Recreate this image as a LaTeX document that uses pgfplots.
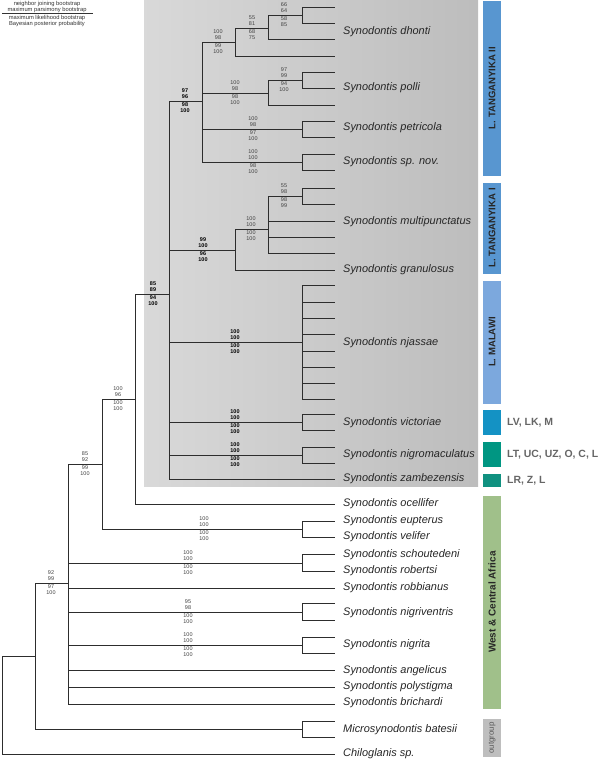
\documentclass[border=0pt]{standalone}
\usepackage{fontspec}
\setmainfont{Liberation Sans}
\usepackage{pgfplots}
\pgfplotsset{compat=1.18}
\definecolor{tree}{RGB}{45,45,45}
\definecolor{lakeA}{RGB}{88,150,208}
\definecolor{lakeB}{RGB}{124,168,221}
\definecolor{vic}{RGB}{20,146,196}
\definecolor{nigm}{RGB}{0,150,130}
\definecolor{zamb}{RGB}{16,145,128}
\definecolor{wca}{RGB}{160,192,138}
\definecolor{outg}{RGB}{190,190,190}
\tikzset{
  bsl/.style={inner sep=0pt, font=\fontsize{5.5}{6}\selectfont, text=black!75},
  bsb/.style={font=\fontsize{5.5}{6}\selectfont\bfseries, text=black},
  tip/.style={anchor=west, inner sep=0pt, font=\fontsize{11}{12}\selectfont\itshape, text=black!85},
  bar/.style={rotate=90, inner sep=0pt, font=\fontsize{9.6}{12}\selectfont\bfseries, text=black!85},
  reg/.style={anchor=west, inner sep=0pt, font=\fontsize{10.5}{12}\selectfont\bfseries, text=black!60},
  leg/.style={inner sep=0pt, font=\fontsize{5.8}{6}\selectfont, text=black!80}
}
\newcommand{\bs}[7][]{%
  \node[bsl,#1,yshift=10bp] at (axis cs:#2,#3) {#4};
  \node[bsl,#1,yshift=4bp] at (axis cs:#2,#3) {#5};
  \node[bsl,#1,yshift=-4bp] at (axis cs:#2,#3) {#6};
  \node[bsl,#1,yshift=-10bp] at (axis cs:#2,#3) {#7};}
\begin{document}
\begin{tikzpicture}
\begin{axis}[width=600bp, height=760bp, scale only axis,
  xmin=0, xmax=600, ymin=0, ymax=760, y dir=reverse,
  hide axis, clip=false, unbounded coords=jump]
\coordinate (BL) at (rel axis cs:0,0);
\coordinate (TR) at (rel axis cs:1,1);
% shaded box
\addplot[draw=none, left color=black!15, right color=black!26]
  coordinates {(144,1)(478,1)(478,486)(144,486)} -- cycle;
% colour bars
\addplot[draw=none, fill=lakeA] coordinates {(483,1)(501,1)(501,176)(483,176)} -- cycle;
\addplot[draw=none, fill=lakeA] coordinates {(483,183)(501,183)(501,274)(483,274)} -- cycle;
\addplot[draw=none, fill=lakeB] coordinates {(483,281)(501,281)(501,404)(483,404)} -- cycle;
\addplot[draw=none, fill=vic] coordinates {(483,410)(501,410)(501,435)(483,435)} -- cycle;
\addplot[draw=none, fill=nigm] coordinates {(483,442)(501,442)(501,467)(483,467)} -- cycle;
\addplot[draw=none, fill=zamb] coordinates {(483,474)(501,474)(501,487)(483,487)} -- cycle;
\addplot[draw=none, fill=wca] coordinates {(483,496)(501,496)(501,709)(483,709)} -- cycle;
\addplot[draw=none, fill=outg] coordinates {(483,719)(501,719)(501,757)(483,757)} -- cycle;
% tree
\addplot[tree, line width=0.95pt, mark=none, line join=miter] coordinates {
(2,705)(2,656)(35,656) (nan,nan)
(2,705)(2,754)(335,754) (nan,nan)
(35,656)(35,583)(68,583) (nan,nan)
(35,656)(35,729)(302,729) (nan,nan)
(302,729)(302,721)(335,721) (nan,nan)
(302,729)(302,737)(335,737) (nan,nan)
(68,583)(68,464)(102,464) (nan,nan)
(68,583)(68,563)(302,563) (nan,nan)
(68,583)(68,588)(335,588) (nan,nan)
(68,583)(68,612)(302,612) (nan,nan)
(68,583)(68,645)(302,645) (nan,nan)
(68,583)(68,670)(335,670) (nan,nan)
(68,583)(68,687)(335,687) (nan,nan)
(68,583)(68,704)(335,704) (nan,nan)
(302,563)(302,554)(335,554) (nan,nan)
(302,563)(302,571)(335,571) (nan,nan)
(302,612)(302,603)(335,603) (nan,nan)
(302,612)(302,620)(335,620) (nan,nan)
(302,645)(302,637)(335,637) (nan,nan)
(302,645)(302,653)(335,653) (nan,nan)
(102,464)(102,399)(135,399) (nan,nan)
(102,464)(102,529)(302,529) (nan,nan)
(302,529)(302,521)(335,521) (nan,nan)
(302,529)(302,537)(335,537) (nan,nan)
(135,399)(135,294)(169,294) (nan,nan)
(135,399)(135,504)(335,504) (nan,nan)
(169,294)(169,101)(202,101) (nan,nan)
(169,294)(169,250)(235,250) (nan,nan)
(169,294)(169,342)(302,342) (nan,nan)
(169,294)(169,422)(302,422) (nan,nan)
(169,294)(169,455)(302,455) (nan,nan)
(169,294)(169,479)(335,479) (nan,nan)
(302,342)(302,285)(335,285) (nan,nan)
(302,342)(302,302)(335,302) (nan,nan)
(302,342)(302,318)(335,318) (nan,nan)
(302,342)(302,334)(335,334) (nan,nan)
(302,342)(302,351)(335,351) (nan,nan)
(302,342)(302,367)(335,367) (nan,nan)
(302,342)(302,383)(335,383) (nan,nan)
(302,342)(302,399)(335,399) (nan,nan)
(302,422)(302,414)(335,414) (nan,nan)
(302,422)(302,430)(335,430) (nan,nan)
(302,455)(302,447)(335,447) (nan,nan)
(302,455)(302,463)(335,463) (nan,nan)
(202,101)(202,42)(235,42) (nan,nan)
(202,101)(202,93)(268,93) (nan,nan)
(202,101)(202,129)(302,129) (nan,nan)
(202,101)(202,162)(302,162) (nan,nan)
(302,129)(302,121)(335,121) (nan,nan)
(302,129)(302,137)(335,137) (nan,nan)
(302,162)(302,154)(335,154) (nan,nan)
(302,162)(302,170)(335,170) (nan,nan)
(235,42)(235,28)(268,28) (nan,nan)
(235,42)(235,56)(335,56) (nan,nan)
(268,28)(268,15)(302,15) (nan,nan)
(268,28)(268,39)(335,39) (nan,nan)
(302,15)(302,7)(335,7) (nan,nan)
(302,15)(302,23)(335,23) (nan,nan)
(268,93)(268,80)(302,80) (nan,nan)
(268,93)(268,105)(335,105) (nan,nan)
(302,80)(302,72)(335,72) (nan,nan)
(302,80)(302,88)(335,88) (nan,nan)
(235,250)(235,229)(268,229) (nan,nan)
(235,250)(235,270)(335,270) (nan,nan)
(268,229)(268,196)(302,196) (nan,nan)
(268,229)(268,221)(335,221) (nan,nan)
(268,229)(268,237)(335,237) (nan,nan)
(268,229)(268,253)(335,253) (nan,nan)
(302,196)(302,188)(335,188) (nan,nan)
(302,196)(302,204)(335,204)
};
% legend of support values
\node[leg] at (axis cs:47,4) {neighbor joining bootstrap};
\node[leg] at (axis cs:47,10) {maximum parsimony bootstrap};
\addplot[black!80, line width=0.5pt] coordinates {(2,13.3)(93,13.3)};
\node[leg] at (axis cs:47,18) {maximum likelihood bootstrap};
\node[leg] at (axis cs:47,24) {Bayesian posterior probability};
% support values
\bs{284}{15}{66}{64}{58}{85}
\bs{252}{28}{55}{81}{68}{75}
\bs{218}{42}{100}{98}{99}{100}
\bs[bsb]{185}{101}{97}{96}{98}{100}
\bs{284}{80}{97}{99}{94}{100}
\bs{235}{93}{100}{98}{98}{100}
\bs{253}{129}{100}{98}{97}{100}
\bs{253}{162}{100}{100}{98}{100}
\bs{284}{196}{55}{98}{98}{99}
\bs{251}{229}{100}{100}{100}{100}
\bs[bsb]{203}{250}{99}{100}{96}{100}
\bs[bsb]{153}{294}{85}{89}{94}{100}
\bs[bsb]{235}{342}{100}{100}{100}{100}
\bs[bsb]{235}{422}{100}{100}{100}{100}
\bs[bsb]{235}{455}{100}{100}{100}{100}
\bs{118}{399}{100}{96}{100}{100}
\bs{85}{464}{85}{92}{99}{100}
\bs{204}{529}{100}{100}{100}{100}
\bs{188}{563}{100}{100}{100}{100}
\bs{51}{583}{92}{99}{97}{100}
\bs{188}{612}{95}{98}{100}{100}
\bs{188}{645}{100}{100}{100}{100}
% tip labels
\node[tip] at (axis cs:343,32) {Synodontis dhonti};
\node[tip] at (axis cs:343,88) {Synodontis polli};
\node[tip] at (axis cs:343,128) {Synodontis petricola};
\node[tip] at (axis cs:343,162) {Synodontis sp. nov.};
\node[tip] at (axis cs:343,222) {Synodontis multipunctatus};
\node[tip] at (axis cs:343,270) {Synodontis granulosus};
\node[tip] at (axis cs:343,343) {Synodontis njassae};
\node[tip] at (axis cs:343,423) {Synodontis victoriae};
\node[tip] at (axis cs:343,455) {Synodontis nigromaculatus};
\node[tip] at (axis cs:343,479) {Synodontis zambezensis};
\node[tip] at (axis cs:343,504) {Synodontis ocellifer};
\node[tip] at (axis cs:343,521) {Synodontis eupterus};
\node[tip] at (axis cs:343,537) {Synodontis velifer};
\node[tip] at (axis cs:343,555) {Synodontis schoutedeni};
\node[tip] at (axis cs:343,571) {Synodontis robertsi};
\node[tip] at (axis cs:343,588) {Synodontis robbianus};
\node[tip] at (axis cs:343,613) {Synodontis nigriventris};
\node[tip] at (axis cs:343,645) {Synodontis nigrita};
\node[tip] at (axis cs:343,671) {Synodontis angelicus};
\node[tip] at (axis cs:343,687) {Synodontis polystigma};
\node[tip] at (axis cs:343,703) {Synodontis brichardi};
\node[tip] at (axis cs:343,730) {Microsynodontis batesii};
\node[tip] at (axis cs:343,754) {Chiloglanis sp.};
% bar labels
\node[bar] at (axis cs:492,88) {L. TANGANYIKA II};
\node[bar] at (axis cs:492,228) {L. TANGANYIKA I};
\node[bar] at (axis cs:492,342) {L. MALAWI};
\node[bar, font=\fontsize{10}{12}\selectfont\bfseries] at (axis cs:492,602) {West \& Central Africa};
\node[bar, font=\fontsize{8}{9}\selectfont, text=black!65] at (axis cs:492,738) {outgroup};
\node[reg] at (axis cs:507,423) {LV, LK, M};
\node[reg] at (axis cs:507,455) {LT, UC, UZ, O, C, L};
\node[reg] at (axis cs:507,481) {LR, Z, L};
\end{axis}
\pgfresetboundingbox
\path (BL) rectangle (TR);
\end{tikzpicture}
\end{document}
